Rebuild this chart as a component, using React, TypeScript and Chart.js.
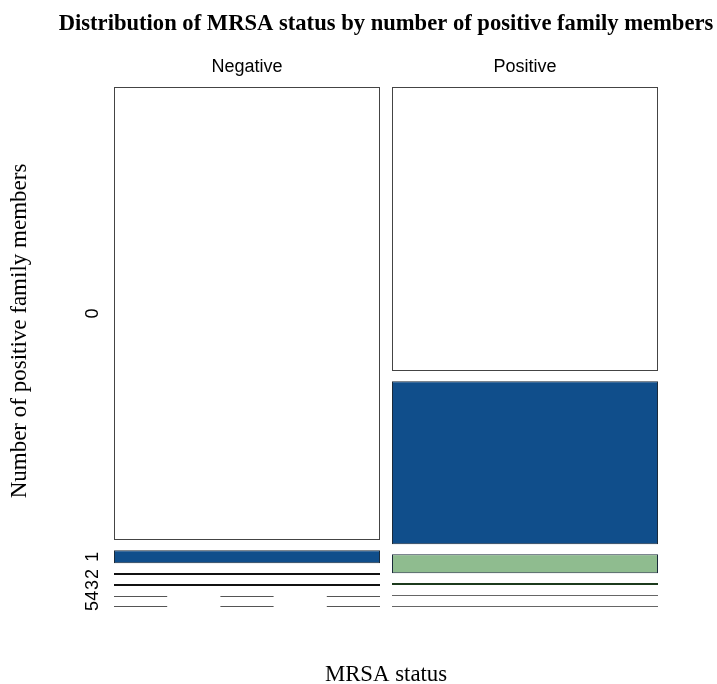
import React, { useEffect, useRef } from "react";
import { Chart, registerables } from "chart.js";

Chart.register(...registerables);

// ---- data ----
const columns = ["Negative", "Positive"];
const levels = ["0", "1", "2", "3", "4", "5"];
// share of each column falling into each level (read from the mosaic)
const negativeShares = [0.968, 0.0278, 0.002, 0.002, 0, 0];
const positiveShares = [0.607, 0.348, 0.0406, 0.003, 0.0007, 0.0007];
const levelFills = ["#FFFFFF", "#104E8B", "#8FBC8F", "#1E4A1E", "#808080", "#808080"];
const negativeLineColors = ["#222", "#222", "#111111", "#111111", "#555", "#555"];
const positiveLineColors = ["#222", "#222", "#222", "#1C3A1C", "#666", "#666"];

const titleText = "Distribution of MRSA status by number of positive family members";
const xTitle = "MRSA status";
const yTitle = "Number of positive family members";

const GAP = 0.0218;
const THIN = 0.005;
const BAR_PCT = 266 / 278;

export default function App() {
  const ref = useRef<HTMLCanvasElement>(null);

  useEffect(() => {
    document.body.style.margin = "0";
    const canvas = ref.current!;
    const shares = [negativeShares, positiveShares];
    const lineColors = [negativeLineColors, positiveLineColors];
    const ranges = shares.map((col) => {
      let acc = 0;
      return col.map((s, i) => {
        const start = acc + i * GAP;
        acc += s;
        return [start, start + s] as [number, number];
      });
    });

    const datasets = levels.map((lv, li) => ({
      label: lv,
      data: ranges.map((r, ci) => (shares[ci][li] >= THIN ? r[li] : null)),
      backgroundColor: levelFills[li],
      borderColor: li === 0 ? "#444444" : "#1a2a3a",
      borderWidth: 1,
      borderSkipped: false as const,
      grouped: false,
      barPercentage: BAR_PCT,
      categoryPercentage: 1,
    }));

    const thinPlugin = {
      id: "thinCells",
      afterDatasetsDraw(chart: any) {
        const ctx = chart.ctx;
        const xs = chart.scales.x;
        const ys = chart.scales.y;
        const catW = xs.getPixelForValue(1) - xs.getPixelForValue(0);
        const half = (catW * BAR_PCT) / 2;
        ctx.save();
        shares.forEach((col, ci) => {
          const cx = xs.getPixelForValue(ci);
          const x0 = cx - half;
          const x1 = cx + half;
          col.forEach((s, li) => {
            if (s >= THIN) return;
            const [a, b] = ranges[ci][li];
            const yc = ys.getPixelForValue((a + b) / 2);
            const zero = s === 0;
            const lw = zero || s < 0.001 ? 1 : 2;
            const y = lw === 1 ? Math.round(yc) + 0.5 : Math.round(yc);
            ctx.beginPath();
            ctx.lineWidth = lw;
            ctx.strokeStyle = lineColors[ci][li];
            if (zero) {
              const seg = (x1 - x0) / 5;
              ctx.setLineDash([seg, seg]);
            } else {
              ctx.setLineDash([]);
            }
            ctx.moveTo(x0, y);
            ctx.lineTo(x1, y);
            ctx.stroke();
          });
        });
        ctx.restore();
      },
    };

    const textPlugin = {
      id: "mosaicText",
      afterDraw(chart: any) {
        const ctx = chart.ctx;
        const xs = chart.scales.x;
        const ys = chart.scales.y;
        const area = chart.chartArea;
        ctx.save();
        ctx.fillStyle = "#000";
        ctx.textAlign = "center";
        ctx.textBaseline = "middle";
        const midX = (area.left + area.right) / 2;
        ctx.font = 'bold 22.6px "Liberation Serif", "Times New Roman", serif';
        ctx.fillText(titleText, midX, 24);
        ctx.font = '22.8px "Liberation Serif", "Times New Roman", serif';
        ctx.fillText(xTitle, midX, 675);
        ctx.save();
        ctx.translate(20, 331);
        ctx.rotate(-Math.PI / 2);
        ctx.font = '23px "Liberation Serif", "Times New Roman", serif';
        ctx.fillText(yTitle, 0, 0);
        ctx.restore();
        ctx.font = '18px "Liberation Sans", Arial, sans-serif';
        columns.forEach((c, ci) => {
          ctx.fillText(c, xs.getPixelForValue(ci), area.top - 20);
        });
        levels.forEach((lv, li) => {
          const [a, b] = ranges[0][li];
          const yc = ys.getPixelForValue((a + b) / 2);
          ctx.save();
          ctx.translate(area.left - 15, yc);
          ctx.rotate(-Math.PI / 2);
          ctx.fillText(lv, 0, 0);
          ctx.restore();
        });
        ctx.restore();
      },
    };

    const chart = new Chart(canvas, {
      type: "bar",
      data: { labels: columns, datasets },
      options: {
        animation: false,
        responsive: false,
        devicePixelRatio: 1,
        layout: { padding: { left: 108, right: 53, top: 87, bottom: 78 } },
        plugins: { legend: { display: false }, title: { display: false }, tooltip: { enabled: false } },
        scales: {
          x: { type: "category", display: false, offset: true },
          y: { type: "linear", display: false, reverse: true, min: 0, max: 1 + 5 * GAP },
        },
      },
      plugins: [thinPlugin, textPlugin],
    });
    return () => chart.destroy();
  }, []);

  return (
    <div style={{ width: 717, height: 684 }}>
      <canvas ref={ref} width={717} height={684} style={{ display: "block" }} />
    </div>
  );
}
